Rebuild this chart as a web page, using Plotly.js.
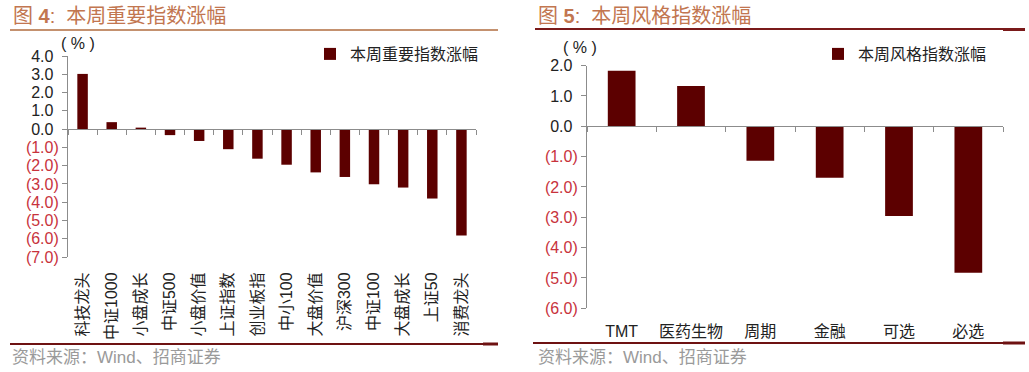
<!DOCTYPE html>
<html>
<head>
<meta charset="utf-8">
<script src="https://cdn.plot.ly/plotly-3.0.1.min.js"></script>
<style>html,body{margin:0;padding:0;background:#fff;}#chart{width:1029px;height:372px;}</style>
</head>
<body>
<div id="chart"></div>
<script>
// ---- Data ----
const leftCategories = ["科技龙头","中证1000","小盘成长","中证500","小盘价值","上证指数","创业板指","中小100","大盘价值","沪深300","中证100","大盘成长","上证50","消费龙头"];
const leftValues = [3.02, 0.38, 0.08, -0.33, -0.65, -1.1, -1.62, -1.95, -2.37, -2.62, -3.02, -3.2, -3.8, -5.83];
const leftTicks = [4, 3, 2, 1, 0, -1, -2, -3, -4, -5, -6, -7];
const leftSeriesName = "本周重要指数涨幅";

const rightCategories = ["TMT","医药生物","周期","金融","可选","必选"];
const rightValues = [1.83, 1.33, -1.14, -1.7, -2.96, -4.83];
const rightTicks = [2, 1, 0, -1, -2, -3, -4, -5, -6];
const rightSeriesName = "本周风格指数涨幅";

const leftTitle = "图 <b>4</b>:  本周重要指数涨幅";
const rightTitle = "图 <b>5</b>:  本周风格指数涨幅";
const sourceText = "资料来源：Wind、招商证券";
const unitText = "( % )";
</script>
<script>
const W = 1029, H = 372;
const BAR = "#5c0000";
const FONT = "Liberation Sans, Noto Sans CJK SC, sans-serif";
const NEG = "#c8323c";

function fmt(v) {
  if (v < 0) return '<span style="color:' + NEG + '">(' + Math.abs(v).toFixed(1) + ')</span>';
  return v.toFixed(1) + '<span style="color:rgba(255,255,255,0)">)</span>';
}
function px2x(p) { return p / W; }
function px2y(p) { return 1 - p / H; }

// Left plot geometry
const lDomX = [px2x(68), px2x(476)];
const lDomY = [px2y(257), px2y(56)];
const lRange = [-7, 4];
const lZero = lDomY[0] + (0 - lRange[0]) / (lRange[1] - lRange[0]) * (lDomY[1] - lDomY[0]);
// Right plot geometry
const rDomX = [px2x(587), px2x(1003)];
const rDomY = [px2y(308.3), px2y(65.6)];
const rRange = [-6, 2];
const rZero = rDomY[0] + (0 - rRange[0]) / (rRange[1] - rRange[0]) * (rDomY[1] - rDomY[0]);

const traces = [
  {type: "bar", x: leftCategories, y: leftValues, name: leftSeriesName, xaxis: "x", yaxis: "y",
   marker: {color: BAR}, width: 0.36, legend: "legend", hoverinfo: "x+y"},
  {type: "scatter", mode: "none", x: leftCategories, y: leftValues, xaxis: "x3", yaxis: "y",
   showlegend: false, hoverinfo: "skip"},
  {type: "bar", x: rightCategories, y: rightValues, name: rightSeriesName, xaxis: "x2", yaxis: "y2",
   marker: {color: BAR}, width: 0.4, legend: "legend2", hoverinfo: "x+y"},
  {type: "scatter", mode: "none", x: rightCategories, y: rightValues, xaxis: "x4", yaxis: "y2",
   showlegend: false, hoverinfo: "skip"}
];

const yCommon = {showline: true, linecolor: "#8c8c8c", linewidth: 1, ticks: "outside", ticklen: 5,
  tickcolor: "#8c8c8c", showgrid: false, zeroline: false, tickfont: {family: FONT, size: 16, color: "#222"}};

const layout = {
  width: W, height: H, margin: {l: 0, r: 0, t: 0, b: 0},
  paper_bgcolor: "#fff", plot_bgcolor: "rgba(0,0,0,0)",
  font: {family: FONT, color: "#222"},
  showlegend: true,
  xaxis: {domain: lDomX, anchor: "y", type: "category", range: [-0.5, leftCategories.length - 0.5],
    showline: false, showgrid: false, ticks: "outside", ticklen: 8, tickcolor: "rgba(0,0,0,0)",
    tickangle: -90, tickfont: {family: FONT, size: 16, color: "#222"}},
  xaxis3: {overlaying: "x", anchor: "free", position: lZero, type: "category",
    range: [-0.5, leftCategories.length - 0.5], showline: true, linecolor: "#8c8c8c", linewidth: 1,
    ticks: "outside", tickson: "boundaries", ticklen: 5, tickcolor: "#8c8c8c",
    showticklabels: false, showgrid: false},
  yaxis: Object.assign({}, yCommon, {domain: lDomY, anchor: "x", range: lRange,
    tickvals: leftTicks, ticktext: leftTicks.map(fmt)}),
  xaxis2: {domain: rDomX, anchor: "y2", type: "category", range: [-0.5, rightCategories.length - 0.5],
    showline: false, showgrid: false, ticks: "outside", ticklen: 8, tickcolor: "rgba(0,0,0,0)",
    tickfont: {family: FONT, size: 16, color: "#222"}},
  xaxis4: {overlaying: "x2", anchor: "free", position: rZero, type: "category",
    range: [-0.5, rightCategories.length - 0.5], showline: true, linecolor: "#8c8c8c", linewidth: 1,
    ticks: "outside", tickson: "boundaries", ticklen: 5, tickcolor: "#8c8c8c",
    showticklabels: false, showgrid: false},
  yaxis2: Object.assign({}, yCommon, {domain: rDomY, anchor: "x2", range: rRange,
    tickvals: rightTicks, ticktext: rightTicks.map(fmt)}),
  legend: {x: px2x(310), y: px2y(37), xanchor: "left", yanchor: "top", bgcolor: "rgba(0,0,0,0)",
    font: {family: FONT, size: 16, color: "#222"}, itemwidth: 30},
  legend2: {x: px2x(818), y: px2y(37), xanchor: "left", yanchor: "top", bgcolor: "rgba(0,0,0,0)",
    font: {family: FONT, size: 16, color: "#222"}, itemwidth: 30},
  annotations: [
    {xref: "paper", yref: "paper", x: px2x(11), y: px2y(16), xanchor: "left", yanchor: "middle",
     text: leftTitle, showarrow: false, font: {family: FONT, size: 20, color: "#c27650"}},
    {xref: "paper", yref: "paper", x: px2x(536), y: px2y(16), xanchor: "left", yanchor: "middle",
     text: rightTitle, showarrow: false, font: {family: FONT, size: 20, color: "#c27650"}},
    {xref: "paper", yref: "paper", x: px2x(59), y: px2y(43), xanchor: "left", yanchor: "middle",
     text: unitText, showarrow: false, font: {family: FONT, size: 16, color: "#222"}},
    {xref: "paper", yref: "paper", x: px2x(580), y: px2y(47), xanchor: "center", yanchor: "middle",
     text: unitText, showarrow: false, font: {family: FONT, size: 16, color: "#222"}},
    {xref: "paper", yref: "paper", x: px2x(10), y: px2y(357), xanchor: "left", yanchor: "middle",
     text: sourceText, showarrow: false, font: {family: FONT, size: 17, color: "#9a9a9a"}},
    {xref: "paper", yref: "paper", x: px2x(536), y: px2y(357), xanchor: "left", yanchor: "middle",
     text: sourceText, showarrow: false, font: {family: FONT, size: 17, color: "#9a9a9a"}}
  ],
  shapes: [
    {type: "line", xref: "paper", yref: "paper", x0: px2x(10), x1: px2x(498), y0: px2y(30), y1: px2y(30),
     line: {color: "#c4916f", width: 2}},
    {type: "line", xref: "paper", yref: "paper", x0: px2x(535), x1: px2x(1025), y0: px2y(29), y1: px2y(29),
     line: {color: "#7a1a1a", width: 2}},
    {type: "line", xref: "paper", yref: "paper", x0: px2x(1003), x1: px2x(1025), y0: px2y(29.5), y1: px2y(29.5),
     line: {color: "#7a1a1a", width: 3}},
    {type: "line", xref: "paper", yref: "paper", x0: px2x(10), x1: px2x(498), y0: px2y(344), y1: px2y(344),
     line: {color: "#6e1212", width: 2}},
    {type: "line", xref: "paper", yref: "paper", x0: px2x(483), x1: px2x(498), y0: px2y(344), y1: px2y(344),
     line: {color: "#6e1212", width: 3}},
    {type: "line", xref: "paper", yref: "paper", x0: px2x(533), x1: px2x(1025), y0: px2y(343), y1: px2y(343),
     line: {color: "#6e1212", width: 2}},
    {type: "line", xref: "paper", yref: "paper", x0: px2x(1003), x1: px2x(1025), y0: px2y(343), y1: px2y(343),
     line: {color: "#6e1212", width: 3}}
  ]
};

Plotly.newPlot("chart", traces, layout, {displayModeBar: false, staticPlot: true});
</script>
</body>
</html>
